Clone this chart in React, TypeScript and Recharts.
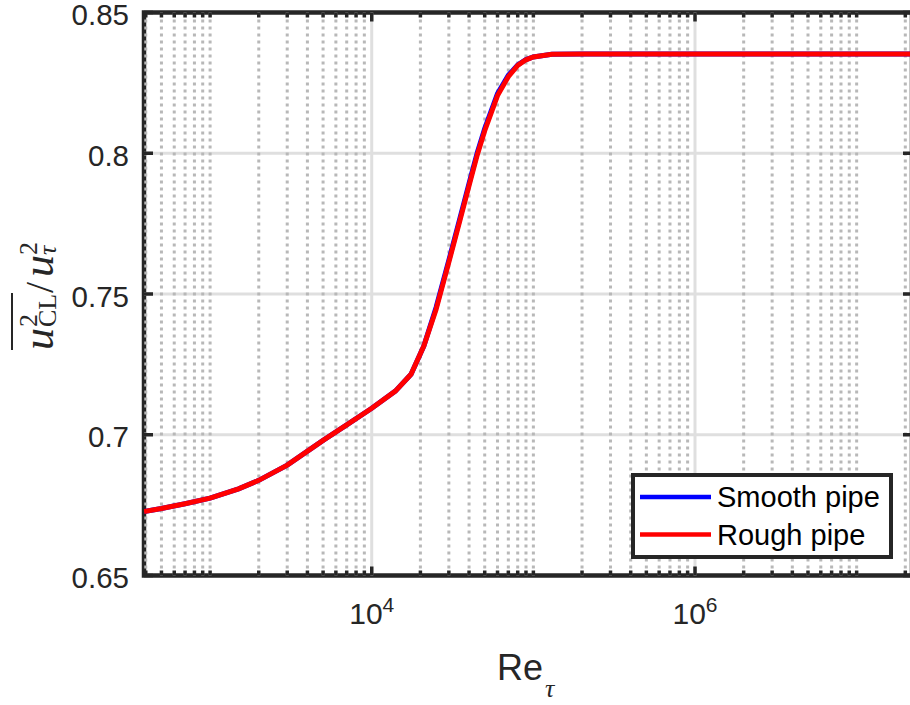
import React from "react";
import { LineChart, Line, XAxis, YAxis, ReferenceLine, ReferenceArea, Legend } from "recharts";

// Re_tau sample points and centreline variance
const reTau = [390, 500, 700, 1000, 1500, 2000, 3000, 5000, 7000, 10000, 14000, 17500, 21000, 25000, 30000, 35000, 40000, 45000, 50000, 60000, 70000, 80000, 90000, 100000, 130000, 200000, 1e6, 1e7, 2.2e7];
const smoothPipe = [0.6727, 0.6738, 0.6755, 0.6775, 0.6808, 0.6838, 0.6892, 0.698, 0.7035, 0.7094, 0.7155, 0.7215, 0.7315, 0.7452, 0.762, 0.7766, 0.7893, 0.8003, 0.8088, 0.8212, 0.8277, 0.8314, 0.8333, 0.8342, 0.8352, 0.8353, 0.8353, 0.8353, 0.8353];
const roughPipe = [0.6727, 0.6738, 0.6755, 0.6775, 0.6808, 0.6838, 0.6892, 0.698, 0.7035, 0.7094, 0.7155, 0.7215, 0.7315, 0.7445, 0.7613, 0.7758, 0.7885, 0.7995, 0.808, 0.8205, 0.8272, 0.8312, 0.8332, 0.8342, 0.8352, 0.8353, 0.8353, 0.8353, 0.8353];
const seriesNames = ["Smooth pipe", "Rough pipe"];

const xDomain = [390, 2.2e7];
const xMajorTicks = [1e4, 1e6];
const xMajorExp = ["4", "6"];
const xMinorTicks = [1e2, 1e3, 1e4, 1e5, 1e6, 1e7]
  .flatMap((d) => [1, 2, 3, 4, 5, 6, 7, 8, 9].map((m) => m * d))
  .filter((v) => v >= xDomain[0] && v <= xDomain[1] && !xMajorTicks.includes(v));
const xTicks = [...xMinorTicks, ...xMajorTicks].sort((a, b) => a - b);

const yTicks = [0.65, 0.7, 0.75, 0.8, 0.85];
const yTickLabels = ["0.65", "0.7", "0.75", "0.8", "0.85"];
const yGrid = [0.7, 0.75, 0.8];

const data = reTau.map((re, i) => ({ re, smooth: smoothPipe[i], rough: roughPipe[i] }));

const AXIS = "#262626";
const SANS = "'Liberation Sans', Arial, Helvetica, sans-serif";
const SERIF = "'Liberation Serif', 'Times New Roman', serif";
const TOP = 12.5;
const BOTTOM = 575.5;
const LEFT = 144;
const RIGHT = 912;

const XTick = ({ x, payload }: any) => {
  const v = payload.value;
  const idx = xMajorTicks.indexOf(v);
  const len = idx >= 0 ? 9 : 5;
  return (
    <g>
      <line x1={x} x2={x} y1={BOTTOM} y2={BOTTOM - len} stroke={AXIS} strokeWidth={3.5} />
      <line x1={x} x2={x} y1={TOP} y2={TOP + len} stroke={AXIS} strokeWidth={3.5} />
      {idx >= 0 && (
        <text x={x} y={624} textAnchor="middle" fontFamily={SANS} fontSize={30} fill={AXIS}>
          10
          <tspan dy={-12} fontSize={21}>{xMajorExp[idx]}</tspan>
        </text>
      )}
    </g>
  );
};

const YTick = ({ y, payload }: any) => {
  const i = yTicks.indexOf(payload.value);
  return (
    <g>
      <line x1={LEFT} x2={LEFT + 9} y1={y} y2={y} stroke={AXIS} strokeWidth={3.5} />
      <line x1={RIGHT} x2={RIGHT - 9} y1={y} y2={y} stroke={AXIS} strokeWidth={3.5} />
      <text x={129} y={y + 12.5} textAnchor="end" fontFamily={SANS} fontSize={29.5} fill={AXIS}>
        {yTickLabels[i]}
      </text>
    </g>
  );
};

const XLabel = () => (
  <text fontFamily={SANS} fontSize={36} fill={AXIS}>
    <tspan x={497} y={680}>Re</tspan>
    <tspan x={545} y={697} fontFamily={SERIF} fontStyle="italic" fontSize={26}>τ</tspan>
  </text>
);

const YLabel = () => (
  <g transform="translate(53,296) rotate(-90)" fill={AXIS}>
    <text fontFamily={SERIF} fontStyle="italic" fontSize={44}>
      <tspan x={-54} y={0}>u</tspan>
      <tspan x={-31} y={-16} fontStyle="normal" fontSize={26}>2</tspan>
      <tspan x={-31} y={3} fontStyle="normal" fontSize={26}>CL</tspan>
      <tspan x={3} y={0} fontStyle="normal" fontSize={40}>/</tspan>
      <tspan x={19} y={0}>u</tspan>
      <tspan x={41} y={-16} fontStyle="normal" fontSize={26}>2</tspan>
      <tspan x={41} y={3} fontSize={26}>τ</tspan>
    </text>
    <line x1={-54} x2={3} y1={-41} y2={-41} stroke={AXIS} strokeWidth={2} />
  </g>
);

const LegendBox = ({ payload }: any) => {
  const items = [...(payload || [])].sort(
    (a: any, b: any) => seriesNames.indexOf(a.value) - seriesNames.indexOf(b.value)
  );
  return (
    <svg width={262} height={86} style={{ display: "block" }}>
      <rect x={2} y={2} width={258} height={82} fill="#fff" stroke={AXIS} strokeWidth={4} />
      {items.map((e: any, i: number) => (
        <g key={e.value}>
          <line x1={9} x2={80} y1={24 + i * 37.5} y2={24 + i * 37.5} stroke={e.color} strokeWidth={4.5} />
          <text x={86} y={34 + i * 37.5} fontFamily={SANS} fontSize={29} fill="#000">
            {e.value}
          </text>
        </g>
      ))}
    </svg>
  );
};

export default function App() {
  return (
    <div style={{ position: "absolute", left: 0, top: 0, width: 910, height: 705, overflow: "hidden", background: "#fff" }}>
      <LineChart width={914} height={705} data={data} margin={{ top: 12.5, right: 2, bottom: 99.5, left: 84 }}>
        <XAxis
          dataKey="re"
          type="number"
          scale="log"
          domain={xDomain}
          allowDataOverflow
          ticks={xTicks}
          interval={0}
          axisLine={false}
          tickLine={false}
          tick={<XTick />}
          height={30}
          label={{ content: () => <XLabel /> }}
        />
        <YAxis
          type="number"
          domain={[0.65, 0.85]}
          allowDataOverflow
          ticks={yTicks}
          interval={0}
          axisLine={false}
          tickLine={false}
          tick={<YTick />}
          width={60}
          label={{ content: () => <YLabel /> }}
        />
        {yGrid.map((v) => (
          <ReferenceLine key={"h" + v} y={v} stroke="#dfdfdf" strokeWidth={3} />
        ))}
        {xMajorTicks.map((v) => (
          <ReferenceLine key={"v" + v} x={v} stroke="#dfdfdf" strokeWidth={3} />
        ))}
        {xMinorTicks.map((v) => (
          <ReferenceLine key={"m" + v} x={v} stroke="#b8b8b8" strokeWidth={3} strokeDasharray="3 4" />
        ))}
        <Line type="linear" dataKey="smooth" name={seriesNames[0]} stroke="#0000ff" strokeWidth={5} dot={false} isAnimationActive={false} />
        <Line type="linear" dataKey="rough" name={seriesNames[1]} stroke="#ff0000" strokeWidth={5} dot={false} isAnimationActive={false} />
        <ReferenceArea x1={xDomain[0]} x2={xDomain[1]} y1={0.65} y2={0.85} fill="none" stroke={AXIS} strokeWidth={4.5} />
        <Legend
          layout="horizontal"
          verticalAlign="middle"
          align="center"
          content={<LegendBox />}
          wrapperStyle={{ left: 631, top: 473, width: 262, height: 86 }}
        />
      </LineChart>
    </div>
  );
}
